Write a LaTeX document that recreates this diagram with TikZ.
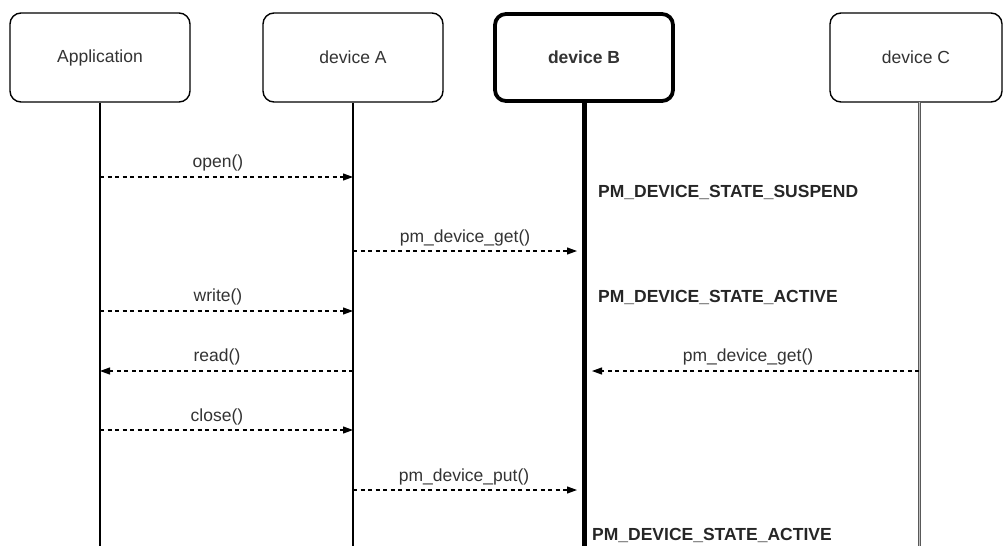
\documentclass[tikz,border=0pt]{standalone}
\usepackage{fontspec}
\setmainfont{Liberation Sans}
\usetikzlibrary{arrows.meta}
\definecolor{txt}{HTML}{333333}
\begin{document}
\begin{tikzpicture}[x=1pt,y=-1pt,
  lane/.style={draw=black, line width=1.4pt, rounded corners=11pt, fill=white,
    minimum width=180pt, minimum height=89pt, inner sep=0pt,
    font=\fontsize{17.5}{21}\selectfont, text=txt},
  lanebold/.style={lane, line width=3.8pt, font=\fontsize{17.5}{21}\selectfont\bfseries},
  life/.style={line width=1.4pt},
  msg/.style={line width=1.1pt, dash pattern=on 4pt off 3.5pt,
    -{Triangle[length=10pt,width=7pt]}},
  lbl/.style={font=\fontsize{17.5}{21}\selectfont, text=txt, inner sep=0pt},
  state/.style={font=\fontsize{17.5}{21}\selectfont\bfseries, text=black!85, inner sep=0pt, anchor=west}]
\useasboundingbox (0,0) rectangle (1003,546);
% lanes
\node[lane] (app) at (100,57.5) {Application};
\node[lane] (devA) at (353,57.5) {device A};
\node[lanebold, minimum width=178pt, minimum height=87pt] (devB) at (584,57.5) {device B};
\node[lane, minimum width=172pt] (devC) at (916,57.5) {device C};
% lifeline ends
\coordinate (appE) at (100,546);
\coordinate (devAE) at (353,546);
\coordinate (devBE) at (584,546);
\coordinate (devCS) at (919,102);
\coordinate (devCE) at (919,546);
\draw[life] (app.south) -- (appE);
\draw[life] (devA.south) -- (devAE);
\draw[line width=5pt] (devB.south) -- (devBE);
\draw[line width=3pt, black!65] (devCS) -- (devCE);
\draw[line width=0.8pt, black!25] (devCS) -- (devCE);
% message endpoints
\coordinate (o1) at (100,177);  \coordinate (o2) at (353,177);
\coordinate (g1) at (353,251);  \coordinate (g2) at (577,251);
\coordinate (w1) at (100,311);  \coordinate (w2) at (353,311);
\coordinate (r1) at (353,371);  \coordinate (r2) at (100,371);
\coordinate (c1) at (919,371);  \coordinate (c2) at (592,371);
\coordinate (x1) at (100,430);  \coordinate (x2) at (353,430);
\coordinate (p1) at (353,490);  \coordinate (p2) at (577,490);
% messages
\draw[msg] (o1) -- (o2);
\draw[msg] (g1) -- (g2);
\draw[msg] (w1) -- (w2);
\draw[msg] (r1) -- (r2);
\draw[msg] (c1) -- (c2);
\draw[msg] (x1) -- (x2);
\draw[msg] (p1) -- (p2);
% labels
\node[lbl] (lo) at (218,163) {open()};
\node[lbl] (lg) at (465,238) {pm\_device\_get()};
\node[lbl] (lw) at (218,297) {write()};
\node[lbl] (lr) at (217,357) {read()};
\node[lbl] (lc) at (748,357) {pm\_device\_get()};
\node[lbl] (lx) at (217,417) {close()};
\node[lbl] (lp) at (464,477) {pm\_device\_put()};
% states
\node[state] (s1) at (598,192) {PM\_DEVICE\_STATE\_SUSPEND};
\node[state] (s2) at (598,297) {PM\_DEVICE\_STATE\_ACTIVE};
\node[state] (s3) at (592,535) {PM\_DEVICE\_STATE\_ACTIVE};
\end{tikzpicture}
\end{document}
